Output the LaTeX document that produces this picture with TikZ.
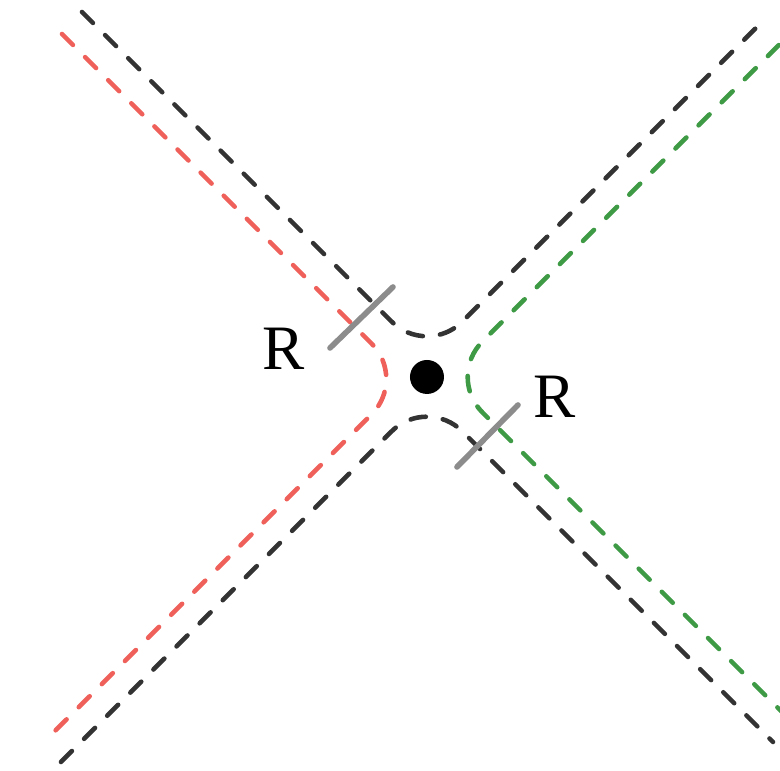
\documentclass[tikz,border=0pt]{standalone}
\usepackage{fontspec}
\setmainfont{Liberation Serif}
\usepackage{tikz}
\usetikzlibrary{positioning,calc}
\definecolor{pretoesc}{HTML}{333333}
\definecolor{vermelhoc}{HTML}{F0605A}
\definecolor{verdeesc}{HTML}{3E9A44}
\definecolor{cinza}{HTML}{8C8C8C}

\begin{document}
\begin{tikzpicture}[x=0.1cm, y=0.1cm,
  tracejado/.style={line width=1.3pt, dash pattern=on 4.4pt off 4.9pt, line cap=round, rounded corners=0.5cm},
  ramo/.style={tracejado, pretoesc},
  ramoesq/.style={tracejado, vermelhoc},
  ramodir/.style={tracejado, verdeesc},
  marca/.style={cinza, line width=1.6pt, line cap=round},
  rot/.style={font=\fontsize{18}{18}\selectfont, inner sep=0pt}]

\useasboundingbox (-42.7,-39.4) rectangle (35.3,37.7);

% ================= ramos pretos (cima / baixo) =================
\draw[ramo] (-34.5,36.5) -- (0,2.0) -- (33.6,35.6);
\draw[ramo] (-36.6,-38.5) -- (0,-1.9) -- (34.6,-36.5);

% ================= ramos coloridos (esquerda / direita) =================
\draw[ramoesq] (-36.5,34.3) -- (-2.0,-0.2) -- (-38.3,-36.5);
\draw[ramodir] (37.5,35.5) -- (2.0,0) -- (36.5,-34.5);

% ================= centro =================
\node[circle, fill=black, minimum size=0.34cm, inner sep=0pt] (centro) at (0,0) {};

% ================= marcas de R =================
\coordinate (m1a) at (-9.7,2.9);
\coordinate (m1b) at (-3.4,9.0);
\coordinate (m2a) at (3.0,-9.0);
\coordinate (m2b) at (9.1,-2.8);
\draw[marca] (m1a) -- (m1b);
\draw[marca] (m2a) -- (m2b);
\node[rot] (raioesq) at (-14.3,2.8) {R};
\node[rot] (raiodir) at (12.8,-2.0) {R};

\end{tikzpicture}
\end{document}
